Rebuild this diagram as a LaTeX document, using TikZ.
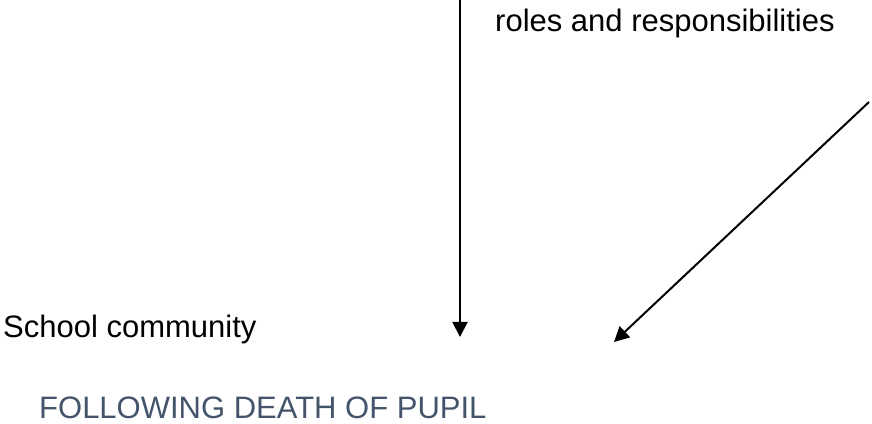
\documentclass[tikz,border=0pt]{standalone}
\usepackage{fontspec}
\setmainfont{Liberation Sans}
\usetikzlibrary{arrows.meta}
\definecolor{headblue}{HTML}{44546A}
\tikzset{
	lbl/.style={anchor=base west, inner sep=0pt, font=\fontsize{31}{37}\selectfont},
	pointer/.style={line width=2pt, -{Triangle[length=15pt, width=15pt]}}
}

\begin{document}
\begin{tikzpicture}[x=1pt, y=1pt]
			%%%%% START %%%%%
			
			\useasboundingbox (0, 0) rectangle (872, 423);
			
			\node[lbl] (roles) at (495, 391) {roles and responsibilities};
			\node[lbl] (school) at (3, 85) {School community};
			\node[lbl, text=headblue] (following) at (39, 5) {FOLLOWING DEATH OF PUPIL};
			
			\coordinate (vtop) at (460, 423);
			\coordinate (vtip) at (460, 86);
			\coordinate (dtop) at (869, 321);
			\coordinate (dtip) at (614, 81);
			
			\draw[pointer] (vtop) -- (vtip);
			\draw[pointer] (dtop) -- (dtip);
			
			%%%%% END %%%%%
		\end{tikzpicture}
\end{document}
